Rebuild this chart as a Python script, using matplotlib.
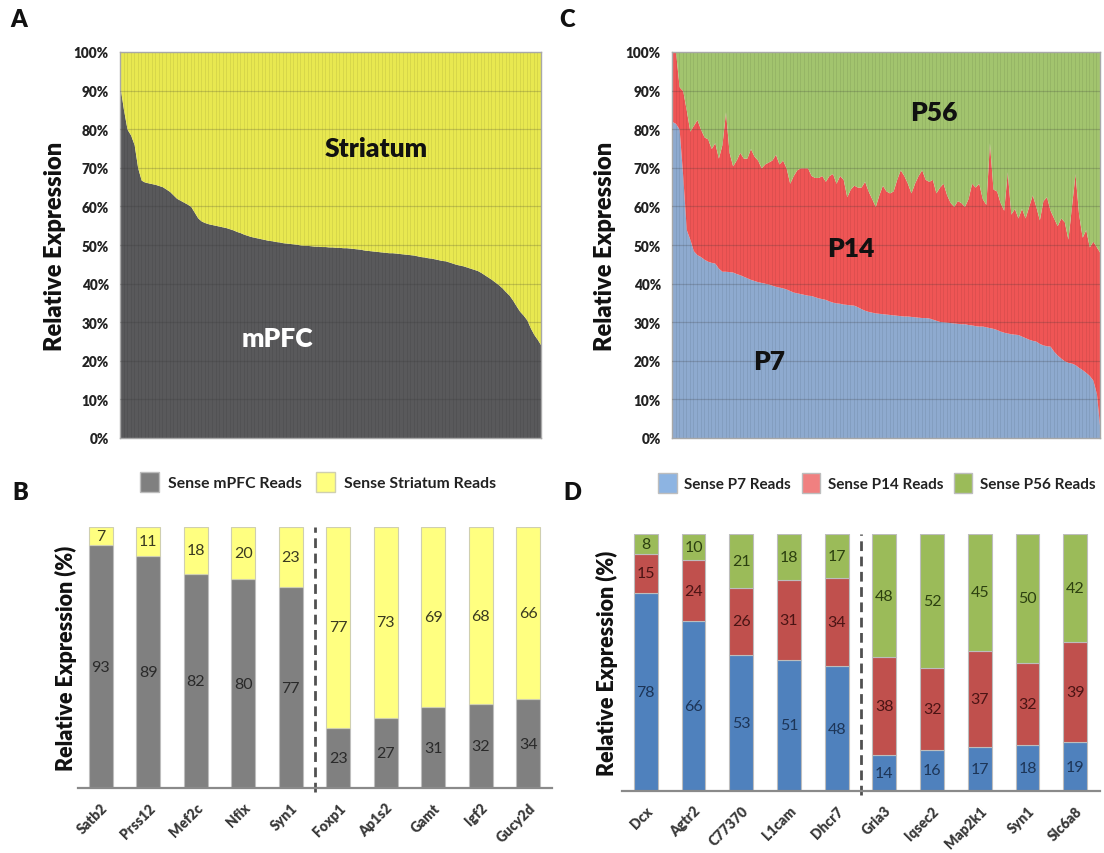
import numpy as np
import matplotlib
matplotlib.use("Agg")
import matplotlib.pyplot as plt
from matplotlib.patches import Patch

plt.rcParams['font.family'] = ['Lato', 'DejaVu Sans']

# ---------------- data ----------------
# Panel A: mPFC share (%) per gene, sorted (striatum = 100 - mPFC)
mpfc_pct = [91, 85, 80, 78.5, 76, 70, 66.8, 66.3, 66.1, 65.9,
            65.7, 65.4, 65.1, 64.5, 63.9, 63, 62.1, 61.6, 61.1, 60.6,
            60.0, 58.5, 57, 56.2, 55.8, 55.5, 55.3, 55.1, 54.9, 54.7,
            54.5, 54.2, 53.9, 53.5, 53.2, 52.8, 52.5, 52.2, 52.0, 51.8,
            51.6, 51.4, 51.2, 51.1, 50.9, 50.8, 50.6, 50.5, 50.4, 50.3,
            50.2, 50.0, 49.9, 49.9, 49.8, 49.7, 49.7, 49.6, 49.6, 49.5,
            49.5, 49.4, 49.4, 49.3, 49.3, 49.2, 49.1, 49.0, 48.9, 48.7,
            48.6, 48.5, 48.4, 48.3, 48.2, 48.1, 48.0, 48.0, 47.9, 47.8,
            47.7, 47.6, 47.5, 47.4, 47.2, 47.0, 46.9, 46.7, 46.6, 46.4,
            46.2, 46.0, 45.9, 45.6, 45.3, 45.0, 44.8, 44.6, 44.3, 44.0,
            43.7, 43.4, 42.9, 42.3, 41.7, 41.1, 40.4, 39.7, 38.9, 37.9,
            37.0, 35.7, 34.2, 32.8, 31.8, 30.6, 28.5, 26.8, 25.5, 24.0]

# Panel C: P7 share and cumulative P7+P14 share (%) per gene
p7_pct = [82, 81.5, 80, 68, 54, 51.5, 48.5, 47.5, 47, 46.3,
          45.8, 45.5, 45.3, 44, 43.2, 43.2, 43.1, 43, 42.6, 42.3,
          41.9, 41.5, 41.1, 40.8, 40.5, 40.3, 40.1, 39.9, 39.6, 39.3,
          39.1, 38.9, 38.6, 38.2, 37.8, 37.6, 37.4, 37.2, 37.0, 36.9,
          36.6, 36.3, 36.1, 35.9, 35.5, 35.2, 35.0, 34.9, 34.7, 34.6,
          34.5, 34.4, 34.0, 33.5, 33.1, 32.8, 32.6, 32.4, 32.3, 32.2,
          32.1, 32.0, 31.9, 31.8, 31.7, 31.6, 31.6, 31.5, 31.4, 31.3,
          31.2, 31.2, 31.1, 30.8, 30.5, 30.2, 30.1, 30.0, 29.9, 29.8,
          29.7, 29.6, 29.6, 29.4, 29.3, 29.1, 29.0, 29.0, 28.8, 28.6,
          28.4, 28.1, 27.7, 27.4, 27.2, 27.0, 26.9, 26.8, 26.4, 26.0,
          25.6, 25.3, 25.1, 24.5, 24.1, 23.9, 23.8, 22.5, 21.5, 20.7,
          20.0, 19.6, 19.4, 19.0, 18.3, 17.7, 17.0, 16.2, 15.0, 11.5, 2]
p7_p14_pct = [100, 100, 91, 90, 85, 79.5, 81, 82.5, 80, 78,
              77.5, 75, 76.5, 72.5, 76, 84.5, 74, 70.5, 72, 74,
              72.5, 72.5, 75, 73, 72, 70, 71, 71.5, 72, 73.5,
              71, 72, 70, 66, 68, 69.5, 70, 70, 70, 68,
              67.5, 67.5, 68, 66.5, 68, 68.5, 66, 68, 67, 62.5,
              64.5, 65.5, 65, 65, 66.5, 64, 62, 60, 63, 65.5,
              64, 63.5, 64, 67, 69.5, 68, 66, 63.5, 66, 68,
              69.5, 67, 66.5, 67, 63.5, 65, 66, 63, 61, 60,
              61.5, 61, 60, 62, 66, 65, 66, 62, 60.5, 76.5,
              64.5, 64, 61, 59, 69, 58, 59.5, 57, 59.5, 57,
              60, 63, 60, 56.5, 61.5, 62.5, 59, 57, 55, 57,
              56, 51.5, 60, 68.5, 58, 52, 54, 49.5, 51, 49.5, 48]

# Panel B
genes_b = ['Satb2', 'Prss12', 'Mef2c', 'Nfix', 'Syn1',
           'Foxp1', 'Ap1s2', 'Gamt', 'Igf2', 'Gucy2d']
mpfc_b = [93, 89, 82, 80, 77, 23, 27, 31, 32, 34]
striatum_b = [7, 11, 18, 20, 23, 77, 73, 69, 68, 66]

# Panel D
genes_d = ['Dcx', 'Agtr2', 'C77370', 'L1cam', 'Dhcr7',
           'Gria3', 'Iqsec2', 'Map2k1', 'Syn1', 'Slc6a8']
p7_d = [78, 66, 53, 51, 48, 14, 16, 17, 18, 19]
p14_d = [15, 24, 26, 31, 34, 38, 32, 37, 32, 39]
p56_d = [8, 10, 21, 18, 17, 48, 52, 45, 50, 42]

# ---------------- figure ----------------
W, H = 1104, 854
fig = plt.figure(figsize=(W / 100, H / 100), dpi=100)
BOLD = 'heavy'


def axes_px(x0, y0, x1, y1):
    return fig.add_axes([x0 / W, 1 - y1 / H, (x1 - x0) / W, (y1 - y0) / H])


def ftext(x, y, s, **kw):
    fig.text(x / W, 1 - y / H, s, **kw)


def area_axes(ax, n):
    ax.set_xlim(0, n - 1)
    ax.set_ylim(0, 100)
    ax.set_yticks(np.arange(0, 101, 10))
    ax.set_yticklabels([f"{v}%" for v in range(0, 101, 10)],
                       fontsize=9.8, fontweight=BOLD, color='#222222')
    ax.set_xticks([])
    ax.tick_params(axis='y', length=0, pad=8)
    for s in ax.spines.values():
        s.set_color('#a8a8a8')
        s.set_linewidth(1.0)
    ax.vlines(np.arange(n), 0, 100, color='#000000', alpha=0.07, lw=0.7,
              zorder=2)
    for v in range(10, 100, 10):
        ax.axhline(v, color='#333333', alpha=0.22, lw=0.9, zorder=3)


# ---- Panel A ----
axA = axes_px(120, 53, 541, 439)
xa = np.arange(len(mpfc_pct))
mp = np.array(mpfc_pct)
axA.fill_between(xa, 0, mp, color='#59595b', lw=0)
axA.fill_between(xa, mp, 100, color='#e8e850', lw=0)
area_axes(axA, len(mpfc_pct))
ftext(55, 246, 'Relative Expression', rotation=90, ha='center', va='center',
      fontsize=17, fontweight=BOLD, color='#111111')
ftext(376, 149, 'Striatum', ha='center', va='center', fontsize=19,
      fontweight=BOLD, color='#111111')
ftext(277, 339, 'mPFC', ha='center', va='center', fontsize=19,
      fontweight=BOLD, color='white')

# ---- Panel C ----
axC = axes_px(672, 53, 1100, 439)
xc = np.arange(len(p7_pct))
p7 = np.array(p7_pct)
top = np.array(p7_p14_pct)
axC.fill_between(xc, 0, p7, color='#8eaacf', lw=0)
axC.fill_between(xc, p7, top, color='#ef5555', lw=0)
axC.fill_between(xc, top, 100, color='#a2c46e', lw=0)
area_axes(axC, len(p7_pct))
ftext(605, 246, 'Relative Expression', rotation=90, ha='center', va='center',
      fontsize=17, fontweight=BOLD, color='#111111')
ftext(934, 113, 'P56', ha='center', va='center', fontsize=19,
      fontweight=BOLD, color='#111111')
ftext(851, 249, 'P14', ha='center', va='center', fontsize=19,
      fontweight=BOLD, color='#111111')
ftext(769, 362, 'P7', ha='center', va='center', fontsize=19,
      fontweight=BOLD, color='#111111')


def bar_axes(ax, genes):
    ax.set_ylim(0, 100)
    ax.set_xticks(np.arange(len(genes)))
    ax.set_xticklabels(genes, rotation=45, ha='right',
                       rotation_mode='anchor', fontsize=10,
                       fontweight=BOLD, color='#3a3a3a')
    ax.tick_params(axis='x', length=0, pad=9)
    ax.set_yticks([])
    for k in ['left', 'right', 'top']:
        ax.spines[k].set_visible(False)
    ax.spines['bottom'].set_color('#8a8a8a')
    ax.spines['bottom'].set_linewidth(1.6)
    ax.patch.set_alpha(0)


def seg_labels(ax, x, bottoms, heights, labels, color):
    for xi, b, h, lab in zip(x, bottoms, heights, labels):
        ax.text(xi, b + h / 2, str(lab), ha='center', va='center',
                fontsize=11.5, color=color)


# ---- Panel B ----
axB = axes_px(78, 528, 552, 789)
xb = np.arange(len(genes_b))
mb = np.array(mpfc_b, float)
sb = np.array(striatum_b, float)
tot_b = mb + sb
mbn = mb / tot_b * 100
sbn = sb / tot_b * 100
axB.bar(xb, mbn, width=0.5, color='#808080', edgecolor='#bdbdbd', lw=0.8)
axB.bar(xb, sbn, bottom=mbn, width=0.5, color='#ffff80',
        edgecolor='#cfcfb0', lw=0.8)
axB.set_xlim(-0.48, 9.5)
bar_axes(axB, genes_b)
seg_labels(axB, xb, np.zeros(len(xb)), mbn, mpfc_b, '#2a2a2a')
seg_labels(axB, xb, mbn, sbn, striatum_b, '#3a3a20')
axB.plot([4.5, 4.5], [-1.5, 100], color='#505050', lw=2.0,
         dashes=(3.5, 2), clip_on=False)
ftext(66, 658, 'Relative Expression (%)', rotation=90, ha='center',
      va='center', fontsize=15.5, fontweight=BOLD, color='#111111')
legB = fig.legend(handles=[Patch(facecolor='#808080', edgecolor='#bdbdbd',
                                 label='Sense mPFC Reads'),
                           Patch(facecolor='#ffff80', edgecolor='#cfcfb0',
                                 label='Sense Striatum Reads')],
                  loc='center', bbox_to_anchor=(318 / W, 1 - 483 / H),
                  ncol=2, frameon=False, fontsize=11.3, handlelength=1.2,
                  handleheight=1.6, columnspacing=0.9, handletextpad=0.6)
for t in legB.get_texts():
    t.set_fontweight('bold')
    t.set_color('#222222')

# ---- Panel D ----
axD = axes_px(622, 535, 1100, 792)
xd = np.arange(len(genes_d))
a7 = np.array(p7_d, float)
a14 = np.array(p14_d, float)
a56 = np.array(p56_d, float)
tot_d = a7 + a14 + a56
n7, n14, n56 = a7 / tot_d * 100, a14 / tot_d * 100, a56 / tot_d * 100
axD.bar(xd, n7, width=0.5, color='#4f81bd', edgecolor='#bdbdbd', lw=0.8)
axD.bar(xd, n14, bottom=n7, width=0.5, color='#c0504d',
        edgecolor='#bdbdbd', lw=0.8)
axD.bar(xd, n56, bottom=n7 + n14, width=0.5, color='#9bbb59',
        edgecolor='#bdbdbd', lw=0.8)
axD.set_xlim(-0.5, 9.52)
bar_axes(axD, genes_d)
seg_labels(axD, xd, np.zeros(len(xd)), n7, p7_d, '#1d3557')
seg_labels(axD, xd, n7, n14, p14_d, '#4a1414')
seg_labels(axD, xd, n7 + n14, n56, p56_d, '#2c4010')
axD.plot([4.5, 4.5], [-1.5, 100], color='#505050', lw=2.0,
         dashes=(3.5, 2), clip_on=False)
ftext(607, 663, 'Relative Expression (%)', rotation=90, ha='center',
      va='center', fontsize=15.5, fontweight=BOLD, color='#111111')
legD = fig.legend(handles=[Patch(facecolor='#8db4e2', edgecolor='#bdbdbd',
                                 label='Sense P7 Reads'),
                           Patch(facecolor='#f08080', edgecolor='#bdbdbd',
                                 label='Sense P14 Reads'),
                           Patch(facecolor='#9bbb59', edgecolor='#bdbdbd',
                                 label='Sense P56 Reads')],
                  loc='center', bbox_to_anchor=(877 / W, 1 - 484 / H),
                  ncol=3, frameon=False, fontsize=11, handlelength=1.2,
                  handleheight=1.6, columnspacing=0.7, handletextpad=0.5)
for t in legD.get_texts():
    t.set_fontweight('bold')
    t.set_color('#222222')

# ---- Panel letters ----
for s, x, y in [('A', 19, 20), ('C', 567, 20), ('B', 20, 493), ('D', 572, 493)]:
    ftext(x, y, s, ha='center', va='center', fontsize=17, fontweight=BOLD,
          color='#111111')

fig.savefig('out.png', dpi=100)
